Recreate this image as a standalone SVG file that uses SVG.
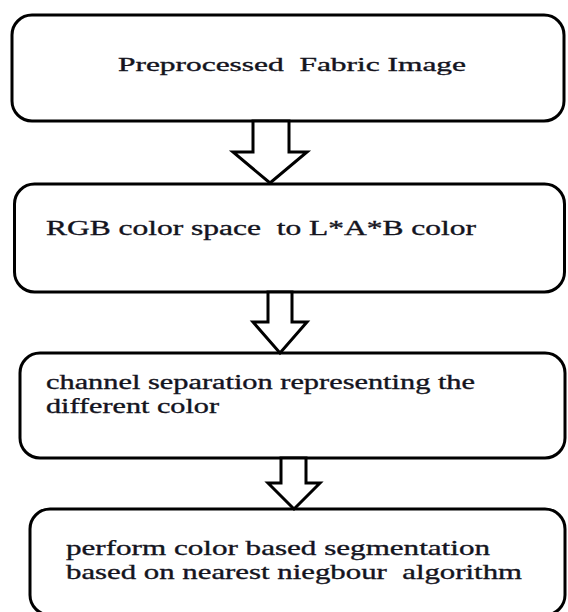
<svg xmlns="http://www.w3.org/2000/svg" width="568" height="612" viewBox="0 0 568 612">
<style>
.box{fill:#fff;stroke:#000;stroke-width:3}
.arr{fill:#fff;stroke:#000;stroke-width:3;stroke-linejoin:miter}
text{font-family:'Liberation Serif','Times New Roman','DejaVu Serif',serif;fill:#14141e;stroke:#14141e;stroke-width:0.35;white-space:pre}
</style>
<rect width="568" height="612" fill="#fff"/>
<g id="node1">
<rect class="box" x="12" y="15" width="552" height="106" rx="20" ry="20"/>
<text x="118" y="71" font-size="18.5" textLength="348" lengthAdjust="spacingAndGlyphs">Preprocessed  Fabric Image</text>
</g>
<g id="node2">
<rect class="box" x="14.5" y="184" width="550" height="108" rx="20" ry="20"/>
<text x="46" y="235" font-size="20.5" textLength="430" lengthAdjust="spacingAndGlyphs">RGB color space  to L*A*B color</text>
</g>
<g id="node3">
<rect class="box" x="20" y="353" width="545" height="105" rx="20" ry="20"/>
<text x="46" y="389" font-size="20.5" textLength="429" lengthAdjust="spacingAndGlyphs">channel separation representing the</text>
<text x="46" y="413" font-size="20.5" textLength="173" lengthAdjust="spacingAndGlyphs">different color</text>
</g>
<g id="node4">
<rect class="box" x="30" y="509" width="535" height="106" rx="20" ry="20"/>
<text x="66" y="555" font-size="21" textLength="424" lengthAdjust="spacingAndGlyphs">perform color based segmentation</text>
<text x="66" y="579" font-size="21" textLength="456" lengthAdjust="spacingAndGlyphs">based on nearest niegbour  algorithm</text>
</g>
<g id="connectors">
<polygon class="arr" points="253,121 289,121 289,152 307,152 270,183 233,152 253,152"/>
<polygon class="arr" points="268,292 292,292 292,322 307,322 280,353 253,322 268,322"/>
<polygon class="arr" points="281,458 306,458 306,483 320,483 294,509 268,483 281,483"/>
</g>
</svg>
